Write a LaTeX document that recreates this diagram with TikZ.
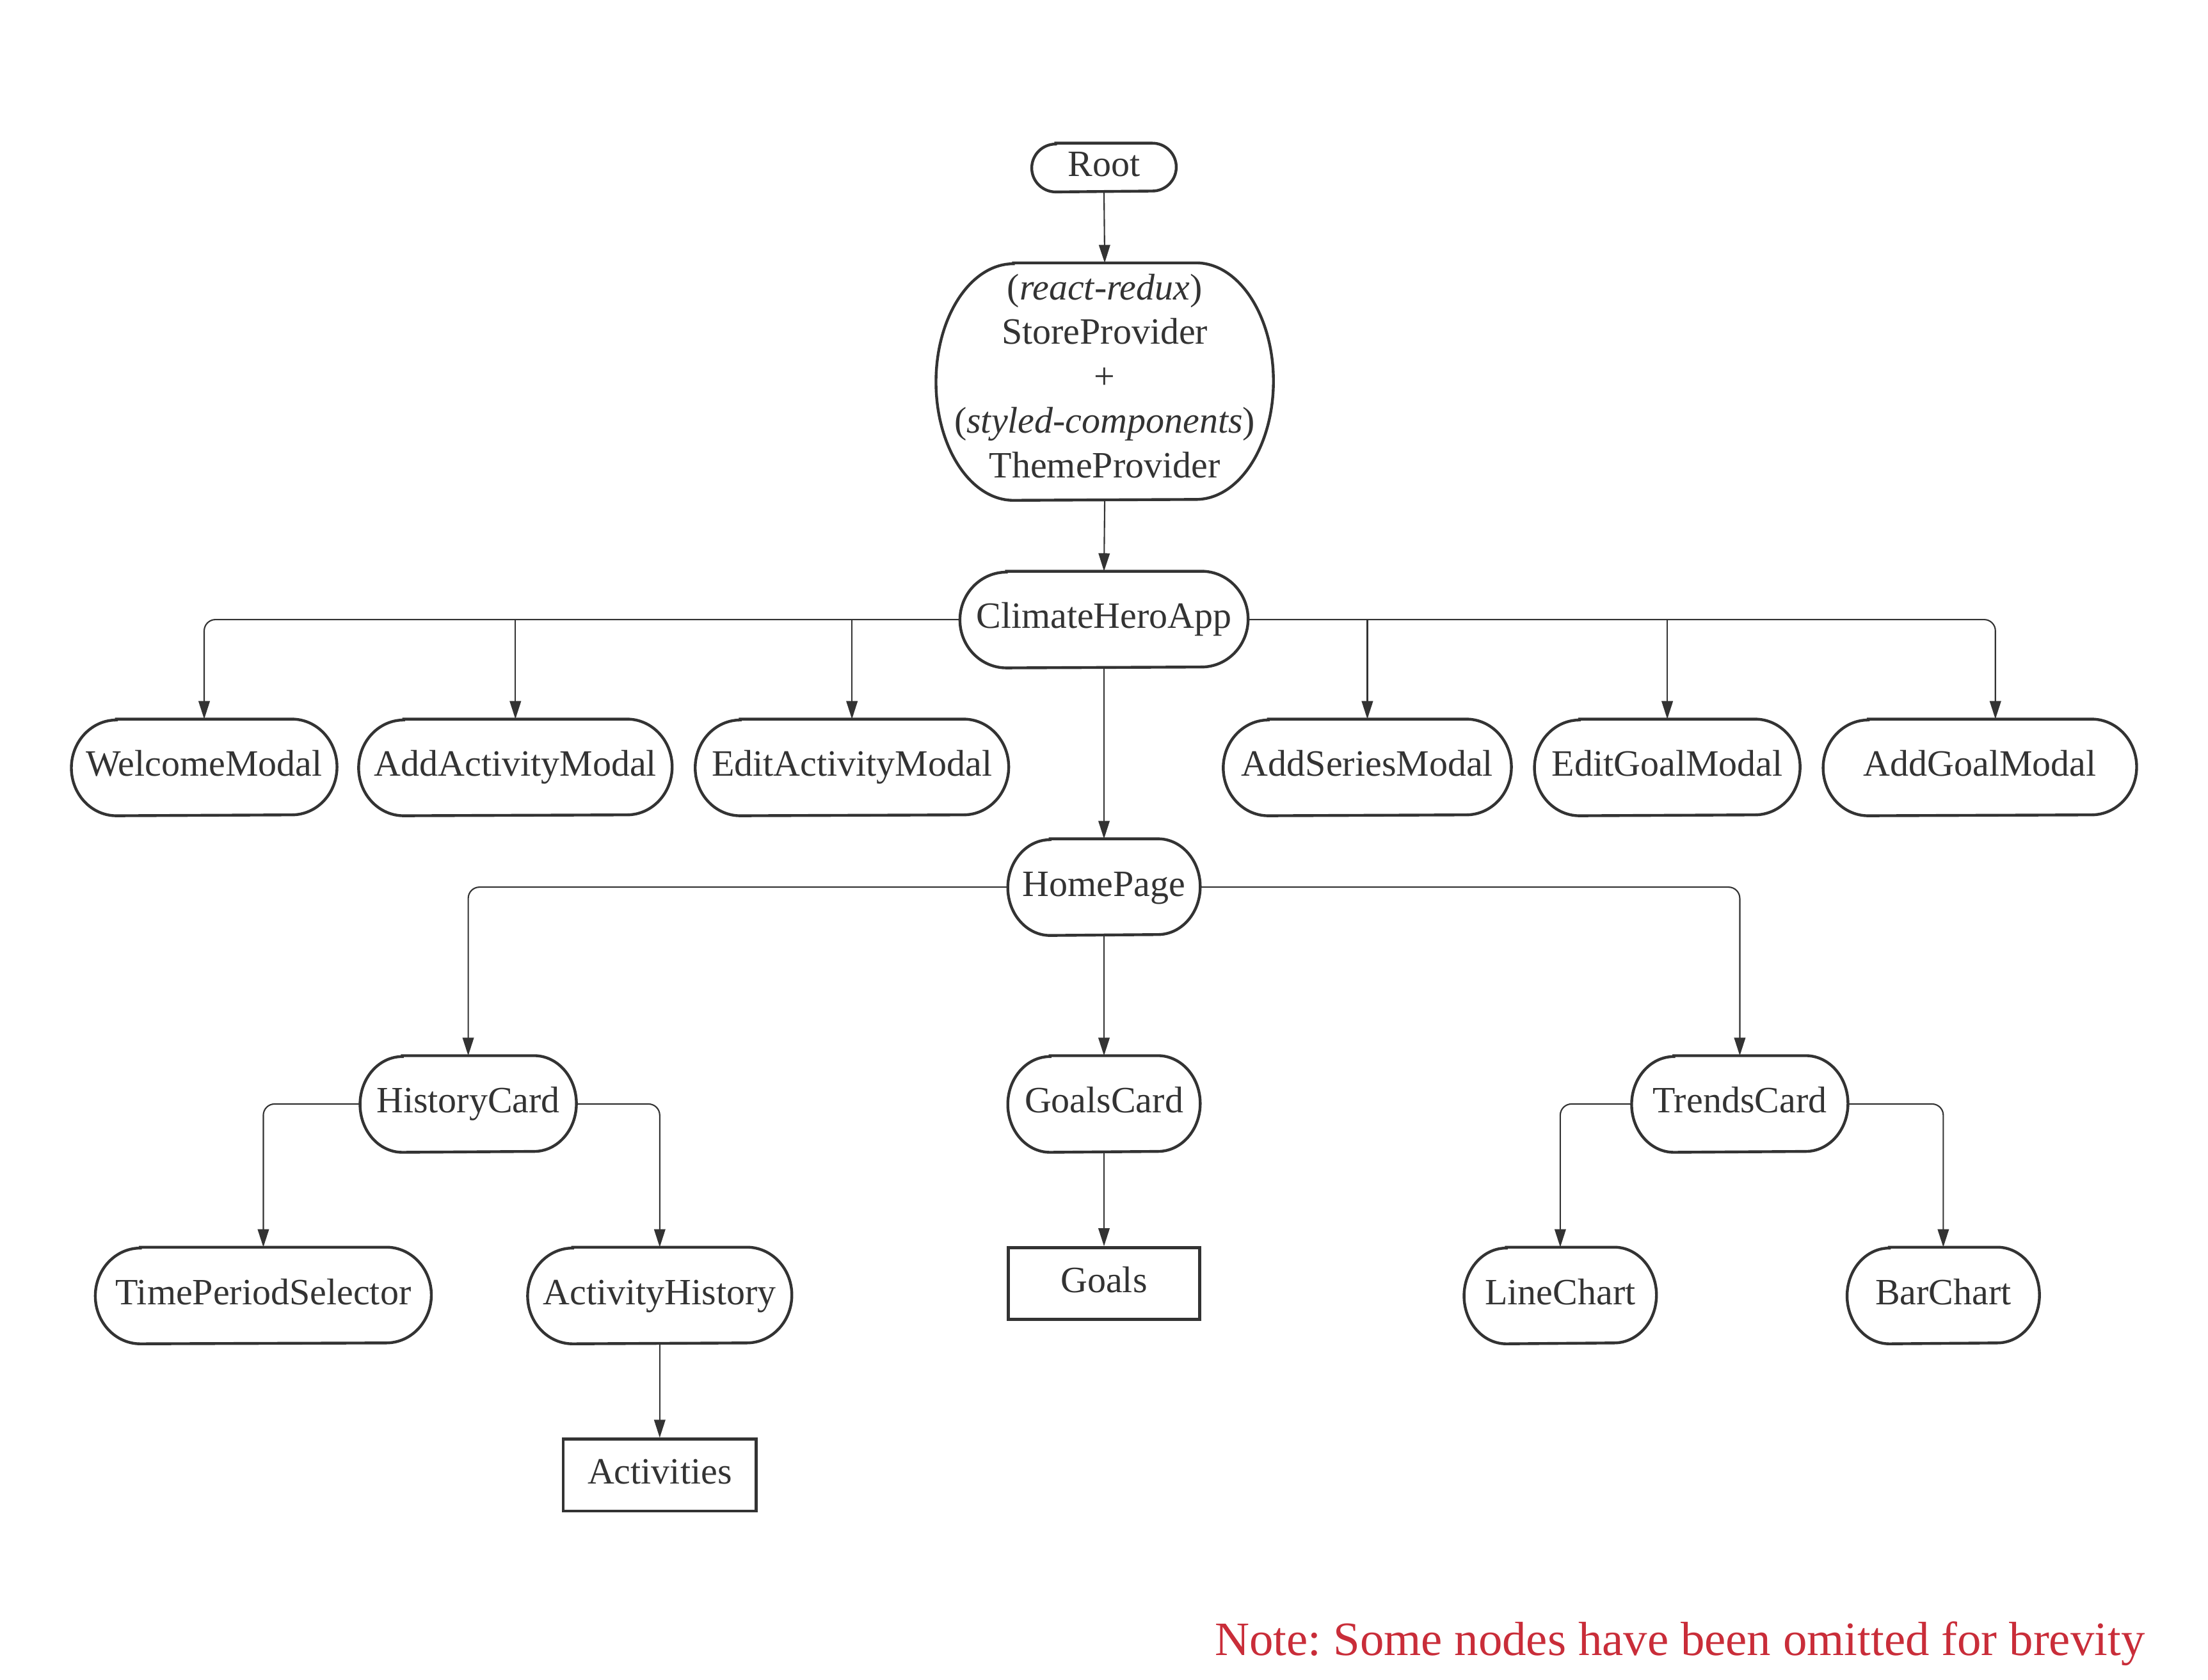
\documentclass[tikz,border=0pt]{standalone}
\usepackage{fontspec}
\setmainfont{Liberation Serif}
\usetikzlibrary{arrows.meta,calc}
\definecolor{ink}{HTML}{333333}
\definecolor{notered}{HTML}{C92D39}
\frenchspacing
% one drawing unit
\def\un{0.022003cm}

\tikzset{
  termtext/.style={font=\fontsize{16.5}{19.8}\selectfont, text=ink, inner sep=0pt},
  oneline/.style={text height=11.5pt, text depth=3.6pt},
  outline/.style={draw=ink, line width=1.25pt},
  boxnode/.style={termtext, oneline, outline},
  conn/.style={draw=ink, line width=0.6pt, rounded corners=5pt,
    -{Triangle[length=8pt,width=5pt]}},
  notetext/.style={font=\fontsize{21.3}{25}\selectfont, text=notered, inner sep=0pt},
}

% terminator node: [text options]{name}{x}{y}{width}{height}{end radius}{text}
\newcommand\termnode[8][oneline]{%
  \node[termtext,#1,minimum width={#5*\un},minimum height={#6*\un}] (#2) at (#3,#4) {#8};
  \draw[outline] ($(#2.north west)+(#7,0)$) -- ($(#2.north east)+(-#7,0)$)
    arc[start angle=90,end angle=-90,x radius={#7*\un},y radius={#6*\un/2}]
    -- ($(#2.south west)+(#7,0)$)
    arc[start angle=270,end angle=90,x radius={#7*\un},y radius={#6*\un/2}] -- cycle;
}

\begin{document}
\begin{tikzpicture}[x=\un, y=\un]
\useasboundingbox (0,0) rectangle (1568,1193);

% nodes
\termnode{Root}{784}{1074}{102}{34}{17}{Root}
\termnode[]{Store}{784.5}{922}{239}{168}{55}{}
\node[termtext, align=center] (storetext) at ($(Store.center)+(0,4)$)
  {(\textit{react-redux})\\StoreProvider\\+\\(\textit{styled-components})\\ThemeProvider};
\termnode{Climate}{784}{753}{204}{68}{33}{ClimateHeroApp}

\termnode{Welcome}{145}{648}{188}{68}{32}{WelcomeModal}
\termnode{AddActivity}{366}{648}{222}{68}{32}{AddActivityModal}
\termnode{EditActivity}{605}{648}{222}{68}{32}{EditActivityModal}
\termnode{AddSeries}{971}{648}{204}{68}{32}{AddSeriesModal}
\termnode{EditGoal}{1184}{648}{188}{68}{32}{EditGoalModal}
\termnode{AddGoal}{1406}{648}{222}{68}{32}{AddGoalModal}

\termnode{Home}{784}{563}{136}{68}{30}{HomePage}

\termnode{History}{332.5}{409}{153}{68}{30}{HistoryCard}
\termnode{GoalsCard}{784}{409}{136}{68}{30}{GoalsCard}
\termnode{Trends}{1235.5}{409}{153}{68}{30}{TrendsCard}

\termnode{TimePeriod}{187}{273}{238}{68}{32}{TimePeriodSelector}
\termnode{ActHistory}{468.5}{273}{187}{68}{32}{ActivityHistory}
\node[boxnode, minimum width={136*\un}, minimum height={51*\un}] (Goals) at (784,281.5) {Goals};
\termnode{LineChart}{1108}{273}{136}{68}{30}{LineChart}
\termnode{BarChart}{1380}{273}{136}{68}{30}{BarChart}

\node[boxnode, minimum width={137*\un}, minimum height={51*\un}] (Activities) at (468.5,145.5) {Activities};

\node[notetext, anchor=base] (note) at (1193,17.5) {Note: Some nodes have been omitted for brevity};

% connectors
\draw[conn] (Root.south) -- (Store.north);
\draw[conn] (Store.south) -- (Climate.north);

\draw[conn] (Climate.west) -| (Welcome.north);
\draw[conn] (AddActivity.north |- Climate.west) -- (AddActivity.north);
\draw[conn] (EditActivity.north |- Climate.west) -- (EditActivity.north);
\coordinate (agtop) at ($(AddGoal.north)+(11,0)$);
\draw[conn] (Climate.east) -| (agtop);
\draw[conn] (AddSeries.north |- Climate.east) -- (AddSeries.north);
\draw[conn] (EditGoal.north |- Climate.east) -- (EditGoal.north);
\draw[conn] (Climate.south) -- (Home.north);

\draw[conn] (Home.west) -| (History.north);
\draw[conn] (Home.east) -| (Trends.north);
\draw[conn] (Home.south) -- (GoalsCard.north);

\draw[conn] (History.west) -| (TimePeriod.north);
\draw[conn] (History.east) -| (ActHistory.north);
\draw[conn] (GoalsCard.south) -- (Goals.north);
\draw[conn] (Trends.west) -| (LineChart.north);
\draw[conn] (Trends.east) -| (BarChart.north);

\draw[conn] (ActHistory.south) -- (Activities.north);
\end{tikzpicture}
\end{document}
